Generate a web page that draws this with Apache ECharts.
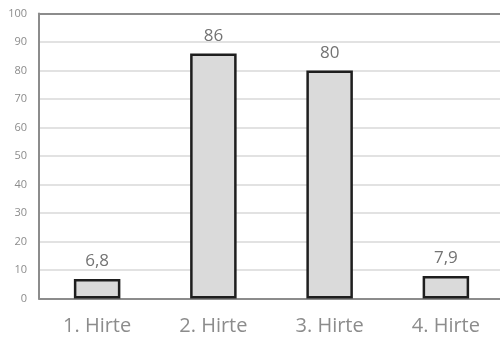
<!DOCTYPE html>
<html><head><meta charset="utf-8">
<script src="https://cdn.jsdelivr.net/npm/echarts@6/dist/echarts.min.js"></script>
<style>html,body{margin:0;padding:0;background:#fff;overflow:hidden}#c{width:500px;height:340px}</style>
</head><body><div id="c"></div>
<script>
var categories = ["1. Hirte", "2. Hirte", "3. Hirte", "4. Hirte"];
var values = [6.8, 86, 80, 7.9];
var yTicks = [0, 10, 20, 30, 40, 50, 60, 70, 80, 90, 100];

var chart = echarts.init(document.getElementById('c'), null, {renderer: 'canvas'});
chart.setOption({
  animation: false,
  grid: {left: 39, top: 13.5, right: -4, bottom: 41.5, outerBoundsMode: 'none', containLabel: false, show: false},
  xAxis: [{
    type: 'category', data: categories,
    axisLine: {show: true, lineStyle: {color: '#8c8c8c', width: 2}},
    axisTick: {show: false}, splitLine: {show: false},
    axisLabel: {color: '#8c8c8c', fontSize: 20, fontFamily: 'Open Sans', margin: 18}
  }, {
    type: 'category', data: categories, position: 'top',
    axisLine: {show: true, lineStyle: {color: '#8c8c8c', width: 2}},
    axisTick: {show: false}, axisLabel: {show: false}, splitLine: {show: false}
  }],
  yAxis: {
    type: 'value', min: yTicks[0], max: yTicks[yTicks.length - 1], interval: 10,
    axisLine: {show: true, lineStyle: {color: '#8c8c8c', width: 2}}, axisTick: {show: false},
    axisLabel: {color: '#8c8c8c', fontSize: 11, fontFamily: 'Open Sans', margin: 12},
    splitLine: {lineStyle: {color: '#e2e2e2', width: 2}}
  },
  series: [{
    type: 'bar', data: values, barWidth: '40%', xAxisIndex: 0,
    itemStyle: {color: '#dadada', borderColor: '#1e1e1e', borderWidth: 2.5},
    label: {show: true, position: 'top', distance: 9, color: '#737373', fontSize: 17, fontFamily: 'Open Sans',
      formatter: function (p) { return String(p.value).replace('.', ','); }}
  }]
});
</script></body></html>
